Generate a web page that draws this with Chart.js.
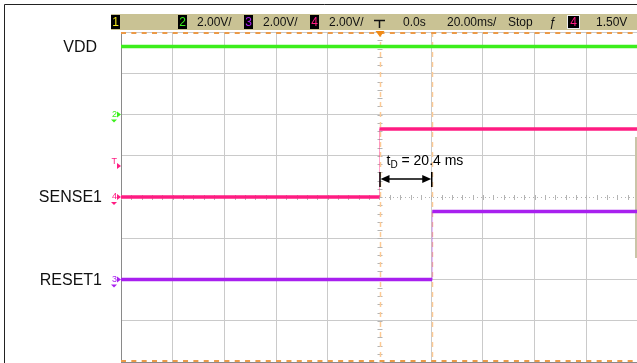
<!DOCTYPE html>
<html lang="en">
<head>
  <meta charset="UTF-8">
  <title>SENSE1 / RESET1 delay</title>
  <script src="https://cdn.jsdelivr.net/npm/chart.js"></script>
  <style>
    html, body { margin: 0; padding: 0; background: #fff; overflow: hidden; }
    canvas { display: block; }
  </style>
</head>
<body>
  <canvas id="scope" width="645" height="363"></canvas>

  <script>
    // scope setup
    const voltsPerDiv = 2;
    const timeRange = [-100, 100];      // ms, 20 ms/div, trigger in the middle
    const cursorTimes = [0, 20.4];      // ms
    const triggerLevel = 1.5;           // V on channel 4

    // traces
    const traceNames = ['VDD', 'SENSE1', 'RESET1'];
    const traceChannels = ['2', '4', '3'];
    const traceOffsets = [2, 0, -2];    // ground marker, in divisions
    const traceColors = ['#3cee1c', '#ff1c82', '#a820ef'];

    const vddTime = [-100, 100];
    const vddVolts = [3.3, 3.3];
    const senseTime = [-100, 0, 0, 100];
    const senseVolts = [0, 0, 3.3, 3.3];
    const resetTime = [-100, 20.4, 20.4, 100];
    const resetVolts = [0, 0, 3.3, 3.3];

    const traceTimes = [vddTime, senseTime, resetTime];
    const traceVolts = [vddVolts, senseVolts, resetVolts];

    const FONT = "'Liberation Sans', Arial, sans-serif";

    const datasets = traceNames.map((name, i) => ({
      label: name,
      data: traceTimes[i].map((t, k) => ({ x: t, y: traceOffsets[i] + traceVolts[i][k] / voltsPerDiv })),
      borderColor: traceColors[i],
      borderWidth: 3.5,
      pointRadius: 0,
      tension: 0,
      segment: {
        borderWidth: ctx => ctx.p0.parsed.x === ctx.p1.parsed.x ? 1 : 3.5,
        borderColor: ctx => ctx.p0.parsed.x === ctx.p1.parsed.x ? traceColors[i] + '66' : traceColors[i]
      }
    }));

    function arrowHead(ctx, x, y, dir) {
      ctx.beginPath();
      ctx.moveTo(x, y);
      ctx.lineTo(x + dir * 9, y - 4);
      ctx.lineTo(x + dir * 9, y + 4);
      ctx.closePath();
      ctx.fill();
    }

    const scopeDecor = {
      id: 'scopeDecor',
      beforeDraw(chart) {
        const ctx = chart.ctx;
        ctx.save();
        // outer frame
        ctx.strokeStyle = '#222';
        ctx.lineWidth = 1;
        ctx.beginPath();
        ctx.moveTo(4.5, 363); ctx.lineTo(4.5, 4.5); ctx.lineTo(645, 4.5);
        ctx.stroke();

        // header bar
        ctx.fillStyle = '#c9c294';
        ctx.fillRect(111, 14, 534, 16);
        ctx.font = '12px ' + FONT;
        ctx.textBaseline = 'middle';
        const boxes = [[111, '1', '#f4e81c'], [178, '2', traceColors[0]], [244, '3', traceColors[2]], [310, '4', traceColors[1]], [567, '4', traceColors[1]]];
        boxes.forEach(([bx, d, c], k) => {
          ctx.fillStyle = '#000';
          ctx.fillRect(bx, 15, k === 4 ? 13 : 9, 14);
          if (k === 4) { ctx.strokeStyle = '#eee'; ctx.strokeRect(bx + 0.5, 15.5, 12, 13); }
          ctx.fillStyle = c;
          ctx.textAlign = 'center';
          ctx.fillText(d, bx + (k === 4 ? 6.5 : 4.5), 22.5);
        });
        ctx.fillStyle = '#111';
        ctx.textAlign = 'left';
        [[197, '2.00V/'], [263, '2.00V/'], [329, '2.00V/'], [403, '0.0s'], [447, '20.00ms/'], [508, 'Stop'], [596, '1.50V']]
          .forEach(([tx, s]) => ctx.fillText(s, tx, 22.5));
        ctx.font = 'italic 12px ' + FONT;
        ctx.fillText('ƒ', 549, 22.5);
        // trigger edge glyph
        ctx.strokeStyle = '#111';
        ctx.lineWidth = 1.5;
        ctx.beginPath();
        ctx.moveTo(374, 20.5); ctx.lineTo(379.5, 20.5); ctx.lineTo(379.5, 28);
        ctx.moveTo(379.5, 20.5); ctx.lineTo(385, 20.5);
        ctx.stroke();
        ctx.restore();
      },
      beforeDatasetsDraw(chart) {
        const { ctx, chartArea: a, scales: { x, y } } = chart;
        const x0 = x.getPixelForValue(0), y0 = y.getPixelForValue(0);
        const divX = x.getPixelForValue(20) - x0, divY = y0 - y.getPixelForValue(1);
        ctx.save();
        // centre axis minor ticks
        ctx.strokeStyle = '#b4b4b4';
        ctx.lineWidth = 1;
        ctx.beginPath();
        for (let px = a.left; px <= a.right; px += divX / 5) {
          ctx.moveTo(Math.round(px) + 0.5, y0 - 2); ctx.lineTo(Math.round(px) + 0.5, y0 + 3);
        }
        for (let py = a.top; py <= a.bottom; py += divY / 5) {
          ctx.moveTo(x0 - 2, Math.round(py) + 0.5); ctx.lineTo(x0 + 3, Math.round(py) + 0.5);
        }
        ctx.stroke();
        ctx.setLineDash([1, 3]);
        ctx.beginPath();
        ctx.moveTo(a.left, Math.round(y0) + 0.5); ctx.lineTo(a.right, Math.round(y0) + 0.5);
        ctx.stroke();

        // time cursors
        ctx.strokeStyle = '#fdca94';
        ctx.lineWidth = 1.5;
        ctx.setLineDash([5, 5]);
        cursorTimes.forEach(t => {
          const px = Math.round(x.getPixelForValue(t)) + 0.5;
          ctx.beginPath(); ctx.moveTo(px, a.top); ctx.lineTo(px, a.bottom); ctx.stroke();
        });

        // orange edge marks
        ctx.strokeStyle = '#eb9a48';
        ctx.lineWidth = 2;
        ctx.setLineDash([5, divX / 5 - 5]);
        ctx.beginPath();
        ctx.moveTo(a.left, a.top + 1); ctx.lineTo(a.right, a.top + 1);
        ctx.moveTo(a.left, a.bottom - 1); ctx.lineTo(a.right, a.bottom - 1);
        ctx.stroke();
        ctx.setLineDash([]);

        // trigger position marker
        ctx.fillStyle = '#f08a16';
        ctx.beginPath();
        ctx.moveTo(x0 - 4, a.top - 1); ctx.lineTo(x0 + 5, a.top - 1); ctx.lineTo(x0 + 0.5, a.top + 5);
        ctx.closePath(); ctx.fill();

        // side bar at right edge
        ctx.fillStyle = '#c9c5a8';
        ctx.fillRect(635, 137, 2, 121);
        ctx.restore();
      },
      afterDatasetsDraw(chart) {
        const { ctx, chartArea: a, scales: { x, y } } = chart;
        ctx.save();
        // channel ground markers + trigger level marker
        const marks = traceNames.map((n, i) => [traceChannels[i], traceOffsets[i], traceColors[i]]);
        marks.push(['T', traceOffsets[1] + triggerLevel / voltsPerDiv, traceColors[1]]);
        ctx.font = '9px ' + FONT;
        ctx.textAlign = 'right';
        ctx.textBaseline = 'middle';
        marks.forEach(([d, v, c]) => {
          const py = y.getPixelForValue(v);
          ctx.fillStyle = c;
          ctx.fillText(d, a.left - 4, py - (d === 'T' ? 5 : 0));
          ctx.beginPath();
          ctx.moveTo(a.left - 4, py - 3); ctx.lineTo(a.left, py); ctx.lineTo(a.left - 4, py + 3);
          ctx.closePath(); ctx.fill();
          if (d !== 'T') {
            ctx.beginPath();
            ctx.moveTo(a.left - 10, py + 5); ctx.lineTo(a.left - 4, py + 5); ctx.lineTo(a.left - 7, py + 8);
            ctx.closePath(); ctx.fill();
          }
        });

        // trace names
        ctx.fillStyle = '#111';
        ctx.font = '16px ' + FONT;
        ctx.textAlign = 'right';
        const nameRight = [97, 102, 102];
        traceNames.forEach((n, i) => {
          const py = y.getPixelForValue(traceOffsets[i] + traceVolts[i][0] / voltsPerDiv);
          ctx.fillText(n, nameRight[i], py + 1);
        });

        // delay annotation
        const xa = x.getPixelForValue(cursorTimes[0]), xb = x.getPixelForValue(cursorTimes[1]);
        const ay = 179;
        ctx.strokeStyle = '#000';
        ctx.fillStyle = '#000';
        ctx.lineWidth = 1.5;
        ctx.beginPath();
        ctx.moveTo(xa + 4, ay); ctx.lineTo(xb - 4, ay);
        ctx.moveTo(xa + 0.5, ay - 7); ctx.lineTo(xa + 0.5, ay + 8);
        ctx.moveTo(xb - 0.5, ay - 7); ctx.lineTo(xb - 0.5, ay + 8);
        ctx.stroke();
        arrowHead(ctx, xa + 1, ay, 1);
        arrowHead(ctx, xb - 1, ay, -1);

        const delay = (cursorTimes[1] - cursorTimes[0]).toFixed(1);
        ctx.textAlign = 'left';
        ctx.textBaseline = 'alphabetic';
        ctx.font = '14px ' + FONT;
        let tx = xa + 7;
        ctx.fillText('t', tx, 165);
        tx += ctx.measureText('t').width;
        ctx.font = '10px ' + FONT;
        ctx.fillText('D', tx, 168);
        tx += ctx.measureText('D').width;
        ctx.font = '14px ' + FONT;
        ctx.fillText(' = ' + delay + ' ms', tx, 165);
        ctx.restore();
      }
    };

    new Chart(document.getElementById('scope').getContext('2d'), {
      type: 'line',
      data: { datasets },
      options: {
        responsive: false,
        animation: false,
        devicePixelRatio: 1,
        layout: { padding: { left: 121, top: 32, right: 7, bottom: 1 } },
        plugins: { legend: { display: false }, tooltip: { enabled: false } },
        scales: {
          x: {
            type: 'linear',
            min: timeRange[0],
            max: timeRange[1],
            ticks: { display: false, stepSize: 20 },
            grid: { drawTicks: false, color: c => c.tick && c.tick.value === 0 ? 'rgba(0,0,0,0)' : '#cacaca' },
            border: { color: '#8a8a8a', width: 1 }
          },
          y: {
            type: 'linear',
            min: -4,
            max: 4,
            ticks: { display: false, stepSize: 1 },
            grid: { drawTicks: false, color: c => c.tick && c.tick.value === 0 ? 'rgba(0,0,0,0)' : '#cacaca' },
            border: { color: '#8a8a8a', width: 1 }
          }
        }
      },
      plugins: [scopeDecor]
    });
  </script>
</body>
</html>
